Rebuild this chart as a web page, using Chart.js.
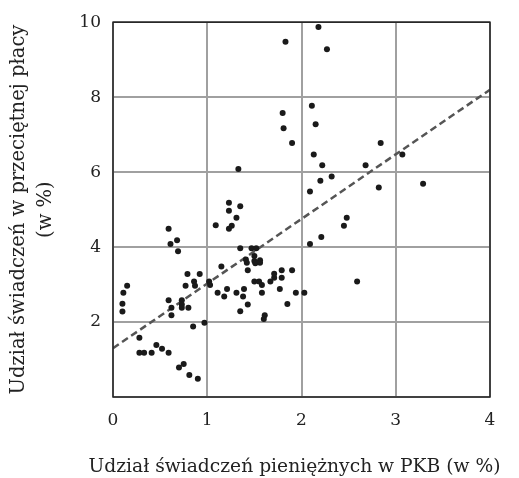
<!DOCTYPE html>
<html>
<head>
<meta charset="utf-8">
<script src="https://cdn.jsdelivr.net/npm/chart.js@4"></script>
<style>
  html, body { margin: 0; padding: 0; background: #fff; }
  #wrap { width: 519px; height: 478px; }
</style>
</head>
<body>
<div id="wrap"><canvas id="myChart"></canvas></div>
<script>
// udział świadczeń pieniężnych w PKB (x) vs udział świadczeń w przeciętnej płacy (y)
const pointsX = [1.83, 1.80, 1.81, 1.90, 1.33, 1.23, 1.35, 2.18, 2.27, 2.11, 2.15, 2.84, 2.13, 3.07, 2.22, 2.68,
  2.32, 2.20, 2.82, 3.29, 2.09, 2.48, 2.45, 2.21, 2.09, 1.90, 1.94, 2.03, 1.85, 2.59,
  1.23, 1.31, 1.09, 1.26, 1.23, 0.59, 0.61, 0.68, 0.69, 1.35, 1.47, 1.52, 1.41, 1.50, 1.50, 1.56,
  1.42, 1.51, 1.56, 1.43, 1.15, 0.79, 0.92, 0.77, 0.86, 0.87, 1.02, 1.03, 1.11, 1.21, 1.18, 1.31,
  1.39, 1.38, 1.43, 1.35, 1.50, 1.55, 1.58, 1.58, 1.61, 1.60, 1.67, 1.71, 1.71, 1.79, 1.79, 1.77,
  0.15, 0.11, 0.10, 0.10, 0.59, 0.73, 0.62, 0.73, 0.73, 0.80, 0.62, 0.85, 0.97,
  0.28, 0.28, 0.33, 0.41, 0.46, 0.52, 0.59, 0.70, 0.75, 0.81, 0.90];
const pointsY = [9.48, 7.58, 7.17, 6.78, 6.08, 5.18, 5.09, 9.87, 9.28, 7.77, 7.28, 6.78, 6.47, 6.47, 6.18, 6.18,
  5.88, 5.77, 5.59, 5.69, 5.48, 4.78, 4.57, 4.27, 4.08, 3.38, 2.78, 2.78, 2.48, 3.08,
  4.97, 4.78, 4.58, 4.57, 4.49, 4.49, 4.08, 4.18, 3.89, 3.97, 3.97, 3.97, 3.67, 3.76, 3.63, 3.65,
  3.58, 3.57, 3.58, 3.38, 3.48, 3.28, 3.28, 2.97, 3.08, 2.97, 3.08, 2.99, 2.78, 2.88, 2.68, 2.78,
  2.88, 2.68, 2.47, 2.29, 3.08, 3.08, 2.99, 2.78, 2.18, 2.08, 3.08, 3.18, 3.29, 3.38, 3.18, 2.88,
  2.97, 2.78, 2.49, 2.28, 2.58, 2.58, 2.38, 2.47, 2.38, 2.38, 2.18, 1.88, 1.98,
  1.58, 1.18, 1.18, 1.18, 1.39, 1.29, 1.18, 0.79, 0.88, 0.59, 0.49];

// linia trendu
const trendX = [0, 4];
const trendY = [1.3, 8.2];

const xTicks = [0, 1, 2, 3, 4];
const yTicks = [2, 4, 6, 8, 10];

const xTitle = 'Udział świadczeń pieniężnych w PKB (w %)';
const yTitle = ['Udział świadczeń w przeciętnej płacy', '(w %)'];

const scatterData = pointsX.map((x, i) => ({x: x, y: pointsY[i]}));
const trendData = trendX.map((x, i) => ({x: x, y: trendY[i]}));

const FONT = '"DejaVu Serif", serif';

// ramka wykresu + tytuł osi x (tytuł skali chart.js ściska tekst do szerokości osi)
const boxPlugin = {
  id: 'box',
  afterDraw(chart) {
    const a = chart.chartArea, c = chart.ctx;
    c.save();
    c.strokeStyle = '#222';
    c.lineWidth = 1.5;
    c.strokeRect(a.left, a.top, a.right - a.left, a.bottom - a.top);
    c.fillStyle = '#222';
    c.font = '18.7px ' + FONT;
    c.textAlign = 'center';
    c.textBaseline = 'middle';
    c.fillText(xTitle, (a.left + a.right) / 2 - 7, chart.height - 11);
    c.restore();
  }
};

const ctx = document.getElementById('myChart');
new Chart(ctx, {
  type: 'scatter',
  data: {
    datasets: [{
      data: trendData,
      type: 'line',
      borderColor: '#555',
      borderWidth: 2.5,
      borderDash: [7, 4],
      pointRadius: 0,
      fill: false,
      order: 2
    }, {
      data: scatterData,
      backgroundColor: '#1a1a1a',
      borderColor: '#1a1a1a',
      pointRadius: 3,
      borderWidth: 0,
      order: 1
    }]
  },
  options: {
    responsive: true,
    maintainAspectRatio: false,
    animation: false,
    layout: { padding: { top: 19, right: 29, left: 0, bottom: 0 } },
    plugins: {
      legend: { display: false },
      tooltip: { enabled: false }
    },
    scales: {
      x: {
        type: 'linear',
        min: 0, max: 4,
        afterBuildTicks: s => { s.ticks = xTicks.map(v => ({value: v})); },
        afterFit: s => { s.height = 81; },
        grid: { color: '#a0a0a0', lineWidth: 2, drawTicks: false },
        border: { display: false },
        ticks: { color: '#222', font: { family: FONT, size: 17 }, padding: 13, maxRotation: 0 },
        title: { display: false }
      },
      y: {
        type: 'linear',
        min: 0, max: 10,
        afterBuildTicks: s => { s.ticks = [0].concat(yTicks).map(v => ({value: v})); },
        afterFit: s => { s.width = 113; },
        grid: { color: '#a0a0a0', lineWidth: 2, drawTicks: false },
        border: { display: false },
        ticks: { color: '#222', font: { family: FONT, size: 17 }, padding: 12,
          callback: v => v === 0 ? '' : v },
        title: { display: true, text: yTitle, color: '#222', font: { family: FONT, size: 19.5, lineHeight: 1.35 }, padding: { top: 6, bottom: 0 }}
      }
    }
  },
  plugins: [boxPlugin]
});
</script>
</body>
</html>
